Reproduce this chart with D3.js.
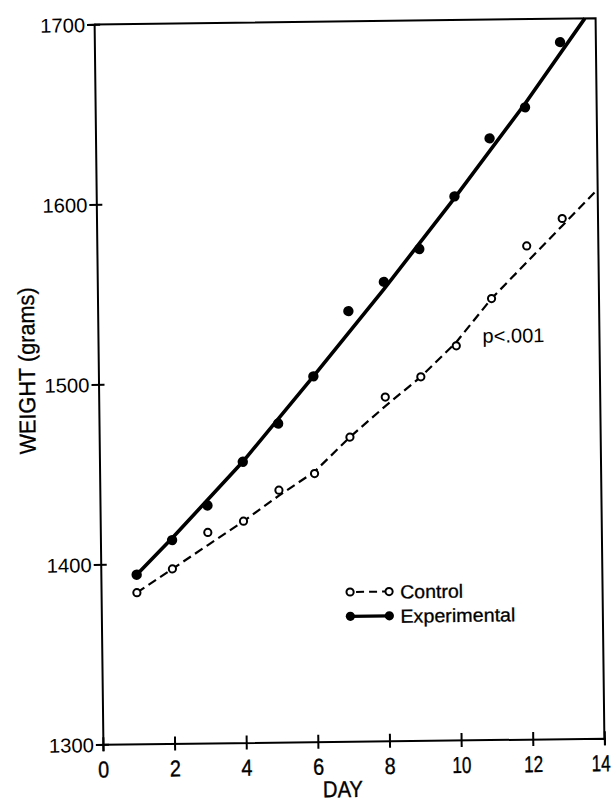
<!DOCTYPE html>
<html><head><meta charset="utf-8">
<script src="https://cdn.jsdelivr.net/npm/d3@7"></script>
<style>body{margin:0;background:#fff} svg{display:block}</style>
</head><body>
<script>
// ---- data ----
const days = [1,2,3,4,5,6,7,8,9,10,11,12,13];
const controlWeights      = [1384,1397,1417,1423,1440,1449,1469,1491,1502,1519,1545,1574,1589];
const experimentalWeights = [1394,1413,1432,1456,1477,1503,1539,1555,1573,1602,1634,1651,1687];
const controlLineDays      = [1,2,3,4,5,6,7,8,9,10,11,12,13,14];
const controlLineWeights   = [1384,1397,1410,1423,1437,1450,1469,1486,1502,1521,1545,1565,1585,1605];
const experimentalLineDays    = [1,2,4,6,8,10,12,13.7];
const experimentalLineWeights = [1394,1414,1456,1503,1551,1601,1653,1700];
const xTicks = [0,2,4,6,8,10,12,14];
const yTicks = [1300,1400,1500,1600,1700];
const legendLabels = ["Control","Experimental"];
const xTitle = "DAY";
const yTitle = "WEIGHT (grams)";
const note = "p<.001";

// ---- layout ----
const W = 616, H = 804;
const plot = {left:98.5, top:21.3, right:600, bottom:741.3};
const FONT = "'Liberation Sans', Arial, sans-serif";

const svg = d3.select("body").append("svg").attr("width", W).attr("height", H);
svg.append("rect").attr("width", W).attr("height", H).attr("fill", "#fff");
const g = svg.append("g").attr("transform", "rotate(-0.7 349.3 381.3)");

const x = d3.scaleLinear().domain([0,14]).range([plot.left, plot.right]);
const y = d3.scaleLinear().domain([1300,1700]).range([plot.bottom, plot.top]);

// frame top + right
g.append("path")
  .attr("d", `M${x(0)},${y(1700)}H${x(14)}V${y(1300)}`)
  .attr("fill","none").attr("stroke","#000").attr("stroke-width",2);

// x axis
const xAxis = g.append("g").attr("transform", `translate(0,${plot.bottom})`)
  .call(d3.axisBottom(x).tickValues(xTicks).tickFormat(d3.format("d")).tickSizeOuter(0).tickSize(7));
xAxis.select(".domain").attr("stroke","#000").attr("stroke-width",2);
xAxis.selectAll(".tick line").attr("y1",-7).attr("y2",7).attr("stroke","#000").attr("stroke-width",2);
xAxis.selectAll(".tick text")
  .attr("y", 33).attr("dy", null)
  .attr("dx", d => d === 14 ? -4 : 0)
  .attr("font-family", FONT).attr("font-size", 23).attr("fill","#000")
  .attr("stroke","#000").attr("stroke-width",0.4)
  .attr("textLength", d => String(d).length > 1 ? 19 : 11)
  .attr("lengthAdjust","spacingAndGlyphs");

// y axis
const yAxis = g.append("g").attr("transform", `translate(${plot.left},0)`)
  .call(d3.axisLeft(y).tickValues(yTicks).tickFormat(d3.format("d")).tickSizeOuter(0).tickSize(7));
yAxis.select(".domain").attr("stroke","#000").attr("stroke-width",2);
yAxis.selectAll(".tick line").attr("x1",-7).attr("x2",6).attr("stroke","#000").attr("stroke-width",2);
yAxis.selectAll(".tick text")
  .attr("x", -9).attr("dy", "0.36em")
  .attr("font-family", FONT).attr("font-size", 20).attr("fill","#000")
  .attr("textLength", 45).attr("lengthAdjust","spacingAndGlyphs");

// axis titles
g.append("text").text(xTitle)
  .attr("x", 338).attr("y", 797)
  .attr("text-anchor","middle").attr("font-family",FONT).attr("font-size",23)
  .attr("stroke","#000").attr("stroke-width",0.4)
  .attr("textLength",40).attr("lengthAdjust","spacingAndGlyphs");
g.append("text").text(yTitle)
  .attr("transform","translate(35,367) rotate(-90)")
  .attr("text-anchor","middle").attr("font-family",FONT).attr("font-size",23)
  .attr("stroke","#000").attr("stroke-width",0.3)
  .attr("textLength",167).attr("lengthAdjust","spacingAndGlyphs");

// lines
const line = d3.line().x(d => x(d[0])).y(d => y(d[1]));
const ctrlLine = controlLineDays.map((d,i) => [d, controlLineWeights[i]]);
const expLine = experimentalLineDays.map((d,i) => [d, experimentalLineWeights[i]]);
g.append("path").attr("d", line(ctrlLine)).attr("fill","none")
  .attr("stroke","#000").attr("stroke-width",2.2).attr("stroke-dasharray","9,5");
g.append("path").attr("d", line(expLine)).attr("fill","none")
  .attr("stroke","#000").attr("stroke-width",3.6).attr("stroke-linejoin","round");

// points
g.selectAll("circle.ctrl").data(days).join("circle").attr("class","ctrl")
  .attr("cx", d => x(d)).attr("cy", (d,i) => y(controlWeights[i])).attr("r", 3.6)
  .attr("fill","#fff").attr("stroke","#000").attr("stroke-width",2);
g.selectAll("circle.exp").data(days).join("circle").attr("class","exp")
  .attr("cx", d => x(d)).attr("cy", (d,i) => y(experimentalWeights[i])).attr("r", 5.2)
  .attr("fill","#000");

// p-value note
g.append("text").text(note).attr("x", 483).attr("y", 344.5)
  .attr("font-family",FONT).attr("font-size",20)
  .attr("textLength",62).attr("lengthAdjust","spacingAndGlyphs");

// legend
const lg = g.append("g").attr("transform","translate(347.5,592)");
const rows = lg.selectAll("g").data(legendLabels).join("g")
  .attr("transform", (d,i) => `translate(0,${i*24.3})`);
rows.append("line").attr("x1",0).attr("x2",39).attr("y1",0).attr("y2",0)
  .attr("stroke","#000")
  .attr("stroke-width",(d,i) => i ? 3.2 : 2)
  .attr("stroke-dasharray",(d,i) => i ? null : "8,5")
  .attr("stroke-dashoffset",(d,i) => i ? null : -6);
rows.each(function(d,i){
  const r = d3.select(this);
  [0,39].forEach(cx => {
    r.append("circle").attr("cx",cx).attr("cy",0).attr("r", i ? 4.6 : 3.6)
      .attr("fill", i ? "#000" : "#fff").attr("stroke","#000").attr("stroke-width", i ? 0 : 2);
  });
});
rows.append("text").text(d => d).attr("x",50).attr("y",7)
  .attr("font-family",FONT).attr("font-size",19)
  .attr("stroke","#000").attr("stroke-width",0.3)
  .attr("textLength",(d,i) => i ? 115 : 63).attr("lengthAdjust","spacingAndGlyphs");
</script>
</body></html>
